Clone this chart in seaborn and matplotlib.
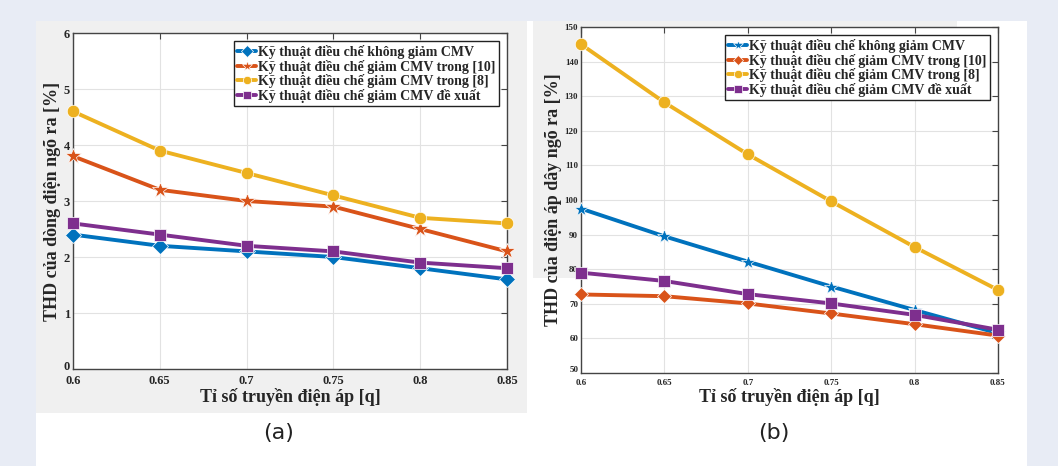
import numpy as np
import pandas as pd
import matplotlib
matplotlib.use("Agg")
import matplotlib.pyplot as plt
import matplotlib.transforms as mtransforms
from matplotlib.patches import Rectangle
import seaborn as sns

# ---------------- data ----------------
q = [0.6, 0.65, 0.7, 0.75, 0.8, 0.85]
series_names = [
    "Kỹ thuật điều chế không giảm CMV",
    "Kỹ thuật điều chế giảm CMV trong [10]",
    "Kỹ thuật điều chế giảm CMV trong [8]",
    "Kỹ thuật điều chế giảm CMV đề xuất",
]
# (a) THD of output current [%]
a_none = [2.4, 2.2, 2.1, 2.0, 1.8, 1.6]
a_ref10 = [3.8, 3.2, 3.0, 2.9, 2.5, 2.1]
a_ref8 = [4.6, 3.9, 3.5, 3.1, 2.7, 2.6]
a_prop = [2.6, 2.4, 2.2, 2.1, 1.9, 1.8]
# (b) THD of output line voltage [%]
b_none = [97.5, 89.5, 82.2, 75.0, 68.2, 61.5]
b_ref10 = [72.7, 72.2, 70.1, 67.2, 64.1, 60.8]
b_ref8 = [145.0, 128.2, 113.2, 99.6, 86.4, 74.0]
b_prop = [79.0, 76.6, 72.8, 70.1, 66.8, 62.5]

xlabel = "Tỉ số truyền điện áp [q]"
ylabel_a = "THD của dòng điện ngõ ra [%]"
ylabel_b = "THD của điện áp dây ngõ ra [%]"
yticks_a = [0, 1, 2, 3, 4, 5, 6]
yticks_b = [50, 60, 70, 80, 90, 100, 110, 120, 130, 140, 150]

colors = ["#0072BD", "#D95319", "#EDB120", "#7E2F8E"]

def long_df(vals):
    rows = []
    for name, v in zip(series_names, vals):
        for xx, yy in zip(q, v):
            rows.append({"q": xx, "val": yy, "series": name})
    return pd.DataFrame(rows)

df_a = long_df([a_none, a_ref10, a_ref8, a_prop])
df_b = long_df([b_none, b_ref10, b_ref8, b_prop])

sns.set_theme(style="white")
plt.rcParams["font.family"] = ["Liberation Serif", "DejaVu Serif"]

W, H = 1058, 466
fig = plt.figure(figsize=(W / 100, H / 100), dpi=100)
fig.patch.set_facecolor("#e8ecf5")

def frect(x0, y0, x1, y1, color):
    fig.patches.append(Rectangle((x0 / W, 1 - y1 / H), (x1 - x0) / W, (y1 - y0) / H,
                                 transform=fig.transFigure, facecolor=color,
                                 edgecolor="none", zorder=-10))

frect(36, 21, 1027, 466, "white")
frect(36, 21, 527, 413, "#f0f0f0")
frect(533, 21, 957, 27, "#f0f0f0")
frect(533, 21, 581, 278, "#f0f0f0")

def ax_px(x0, y0, x1, y1):
    return fig.add_axes([x0 / W, 1 - y1 / H, (x1 - x0) / W, (y1 - y0) / H])

ax1 = ax_px(73, 33, 507, 369)
ax2 = ax_px(581, 27, 998, 373)

def draw(ax, df, markers, msizes, leg_ms, yticks, ylabel, tick_fs, lab_fs, leg_fs, caption, cap_x):
    sns.lineplot(data=df, x="q", y="val", hue="series", style="series",
                 hue_order=series_names, style_order=series_names,
                 palette=colors, markers=dict(zip(series_names, markers)),
                 dashes=False, linewidth=2.8, markersize=8, markeredgewidth=0.5,
                 ax=ax, legend=True)
    for line, ms in zip(ax.get_lines(), msizes):
        line.set_markersize(ms)
        line.set_clip_on(False)
        line.set_zorder(3)
    ax.set_facecolor("white")
    ax.set_xlim(0.6, 0.85)
    ax.set_ylim(yticks[0], yticks[-1])
    ax.set_xticks(q)
    ax.set_xticklabels([f"{v:g}" for v in q])
    ax.set_yticks(yticks)
    ax.grid(True, color="#e2e2e2", linewidth=0.8)
    for s in ax.spines.values():
        s.set_color("#444444")
        s.set_linewidth(1.0)
        s.set_zorder(2)
    ax.tick_params(direction="in", length=4, width=0.8, color="#444444",
                   top=True, right=True, labelsize=tick_fs, pad=2)
    ax.tick_params(axis="x", pad=4)
    for t in ax.get_xticklabels() + ax.get_yticklabels():
        t.set_fontweight("bold")
    # lift the bottom y tick label slightly so it sits above the first x label
    yl0 = ax.get_yticklabels()[0]
    yl0.set_transform(yl0.get_transform() +
                      mtransforms.ScaledTranslation(0, 4 / 100, fig.dpi_scale_trans))
    ax.set_xlabel(xlabel, fontsize=lab_fs, fontweight="bold", labelpad=1)
    ax.set_ylabel(ylabel, fontsize=lab_fs, fontweight="bold", labelpad=2)
    h, l = ax.get_legend_handles_labels()
    for hh, ms in zip(h, leg_ms):
        hh.set_markersize(ms)
    leg = ax.legend(h, l, loc="upper right", fontsize=leg_fs, frameon=True,
                    fancybox=False, edgecolor="#222222", framealpha=1,
                    handlelength=1.4, handletextpad=0.1, labelspacing=0.05,
                    borderpad=0.25, borderaxespad=0.6,
                    prop={"weight": "bold", "size": leg_fs})
    leg.get_frame().set_linewidth(1.0)
    leg.set_zorder(5)
    fig.text(cap_x / W, 1 - 433 / H, caption, ha="center", va="center",
             fontsize=16, family="DejaVu Sans", color="#222222")

draw(ax1, df_a, ["D", "*", "o", "s"], [8, 12, 9, 8], [6, 8, 6, 6], yticks_a, ylabel_a,
     9, 13, 10, "(a)", 279)
draw(ax2, df_b, ["*", "D", "o", "s"], [10, 7, 9, 8], [7, 5, 6, 6], yticks_b, ylabel_b,
     6.5, 13, 10, "(b)", 774)

fig.savefig("out.png", dpi=100)
